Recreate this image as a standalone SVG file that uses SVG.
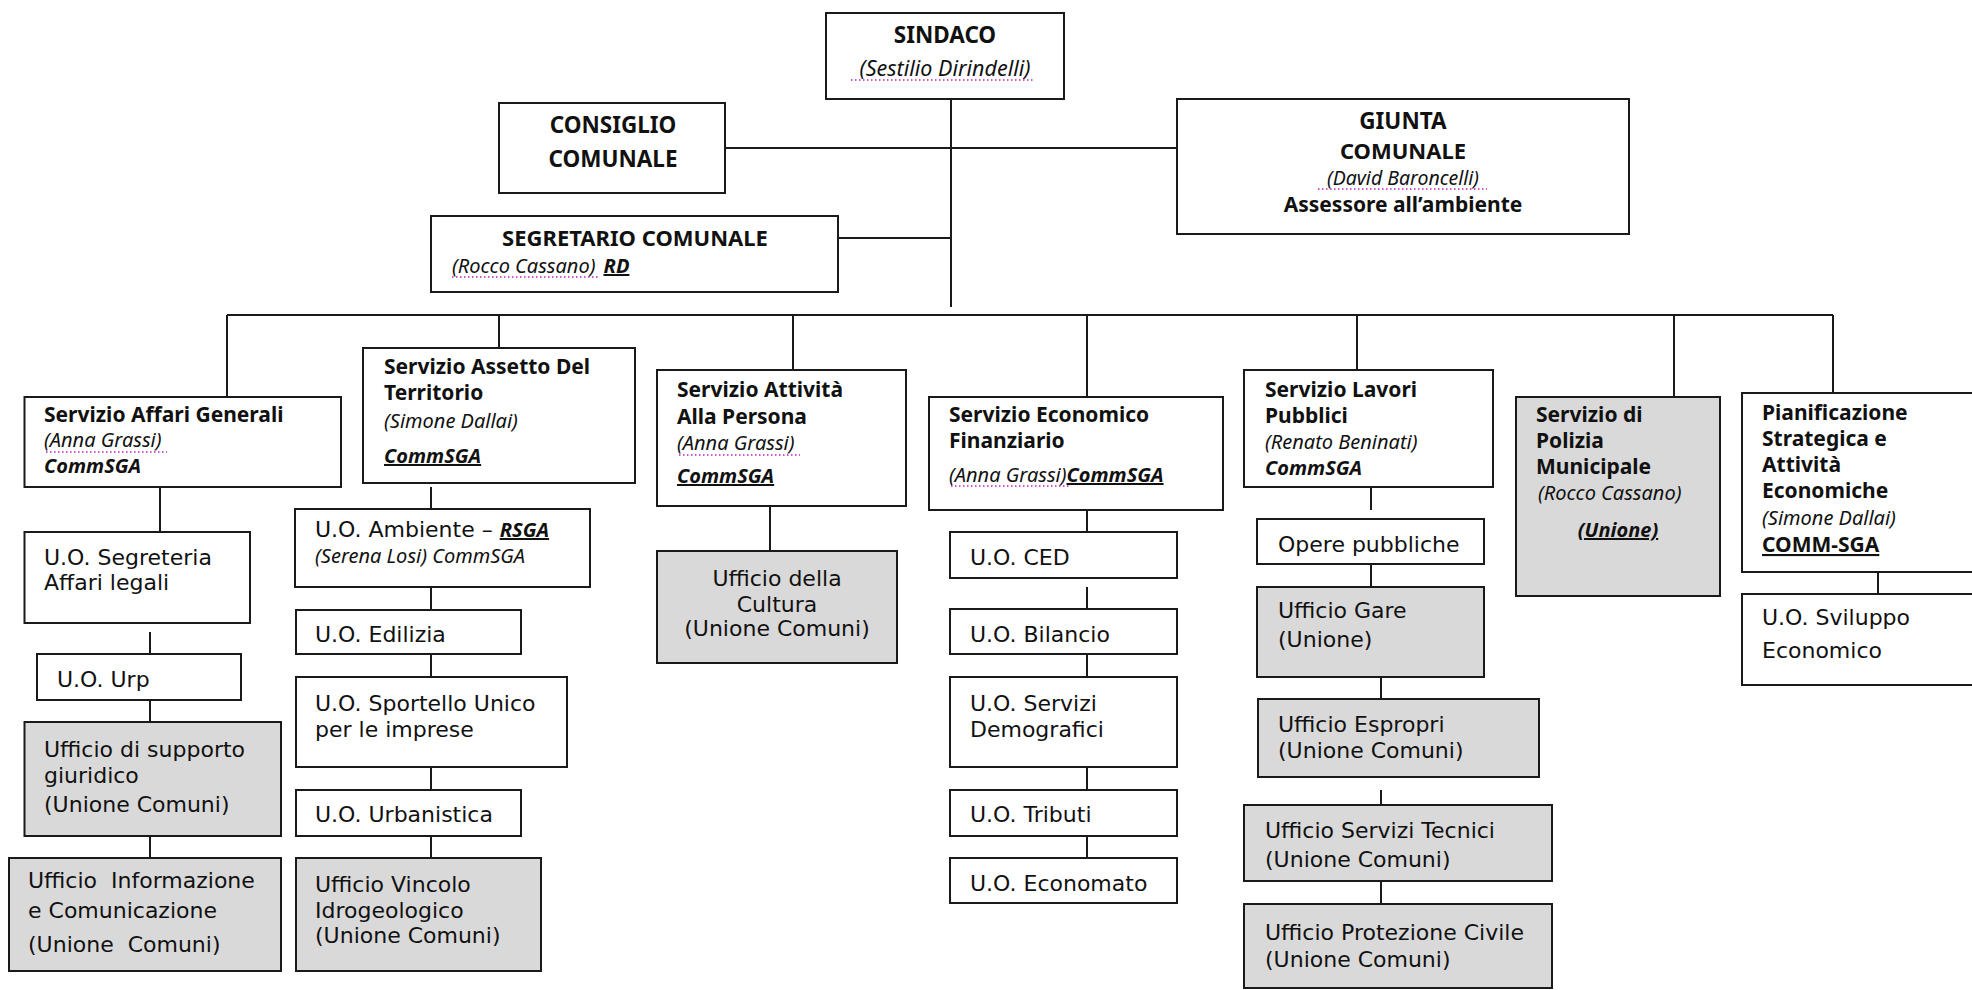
<svg xmlns="http://www.w3.org/2000/svg" width="1972" height="990" viewBox="0 0 1972 990">
<style>
.box{fill:#fff;stroke:#1a1a1a;stroke-width:2}
.gbox{fill:#d9d9d9;stroke:#1a1a1a;stroke-width:2}
.ln{stroke:#1a1a1a;stroke-width:2;fill:none}
.dot{stroke:#c020c0;stroke-width:1.5;stroke-dasharray:1.5 2.5;fill:none}
text{fill:#111}
.top{font-family:"Noto Sans","DejaVu Sans",sans-serif;font-weight:bold;font-size:22.5px}
.h{font-family:"Noto Sans","DejaVu Sans",sans-serif;font-weight:bold;font-size:21px}
.t{font-family:"DejaVu Sans","Noto Sans",sans-serif;font-size:22px}
.i{font-family:"Noto Sans","DejaVu Sans",sans-serif;font-style:italic;font-size:20px}
.bi{font-family:"Noto Sans","DejaVu Sans",sans-serif;font-style:italic;font-weight:bold;font-size:20px}
.u{text-decoration:underline}
.c{text-anchor:middle}
</style>

<g id="connectors">
<line class="ln" x1="951" y1="82" x2="951" y2="307"/>
<line class="ln" x1="725" y1="148" x2="1177" y2="148"/>
<line class="ln" x1="838" y1="238" x2="951" y2="238"/>
<line class="ln" x1="227" y1="315" x2="1833" y2="315"/>
<line class="ln" x1="227" y1="315" x2="227" y2="397"/>
<line class="ln" x1="499" y1="315" x2="499" y2="348"/>
<line class="ln" x1="793" y1="315" x2="793" y2="370"/>
<line class="ln" x1="1087" y1="315" x2="1087" y2="397"/>
<line class="ln" x1="1357" y1="315" x2="1357" y2="370"/>
<line class="ln" x1="1674" y1="315" x2="1674" y2="397"/>
<line class="ln" x1="1833" y1="315" x2="1833" y2="393"/>
<line class="ln" x1="160" y1="487" x2="160" y2="532"/>
<line class="ln" x1="150" y1="632" x2="150" y2="654"/>
<line class="ln" x1="150" y1="700" x2="150" y2="722"/>
<line class="ln" x1="150" y1="836" x2="150" y2="858"/>
<line class="ln" x1="431" y1="487" x2="431" y2="509"/>
<line class="ln" x1="431" y1="587" x2="431" y2="610"/>
<line class="ln" x1="431" y1="654" x2="431" y2="677"/>
<line class="ln" x1="431" y1="767" x2="431" y2="790"/>
<line class="ln" x1="431" y1="836" x2="431" y2="858"/>
<line class="ln" x1="770" y1="506" x2="770" y2="551"/>
<line class="ln" x1="1087" y1="510" x2="1087" y2="532"/>
<line class="ln" x1="1087" y1="587" x2="1087" y2="609"/>
<line class="ln" x1="1087" y1="654" x2="1087" y2="677"/>
<line class="ln" x1="1087" y1="767" x2="1087" y2="790"/>
<line class="ln" x1="1087" y1="836" x2="1087" y2="858"/>
<line class="ln" x1="1371" y1="487" x2="1371" y2="510"/>
<line class="ln" x1="1371" y1="564" x2="1371" y2="587"/>
<line class="ln" x1="1381" y1="677" x2="1381" y2="699"/>
<line class="ln" x1="1381" y1="790" x2="1381" y2="812"/>
<line class="ln" x1="1381" y1="881" x2="1381" y2="904"/>
<line class="ln" x1="1878" y1="572" x2="1878" y2="594"/>
</g>

<g id="sindaco">
<rect class="box" x="826" y="13" width="238" height="86"/>
<text class="top c" x="945" y="43">SINDACO</text>
<text class="i c" x="945" y="76" style="font-size:21.5px">(Sestilio Dirindelli)</text>
<line class="dot" x1="851" y1="80" x2="1034" y2="80"/>
</g>

<g id="consiglio">
<rect class="box" x="499" y="103" width="226" height="90"/>
<text class="top c" x="613" y="133">CONSIGLIO</text>
<text class="top c" x="613" y="167">COMUNALE</text>
</g>

<g id="giunta">
<rect class="box" x="1177" y="99" width="452" height="135"/>
<text class="top c" x="1403" y="129">GIUNTA</text>
<text class="top c" x="1403" y="159" style="font-size:22px">COMUNALE</text>
<text class="i c" x="1403" y="185" style="font-size:19.5px">(David Baroncelli)</text>
<line class="dot" x1="1318" y1="189" x2="1487" y2="189"/>
<text class="h c" x="1403" y="212">Assessore all’ambiente</text>
</g>

<g id="segretario">
<rect class="box" x="431" y="216" width="407" height="76"/>
<text class="top c" x="635" y="246" style="font-size:22px">SEGRETARIO COMUNALE</text>
<text x="452" y="273"><tspan class="i">(Rocco Cassano)</tspan><tspan class="bi u" dx="8">RD</tspan></text>
<line class="dot" x1="452" y1="277" x2="598" y2="277"/>
</g>

<g id="affari-generali">
<rect class="box" x="24.5" y="397" width="316.5" height="90"/>
<text class="h" x="44" y="422">Servizio Affari Generali</text>
<text class="i" x="44" y="447">(Anna Grassi)</text>
<line class="dot" x1="46" y1="452" x2="167" y2="452"/>
<text class="bi" x="44" y="473">CommSGA</text>
</g>

<g id="assetto">
<rect class="box" x="363" y="348" width="272" height="135"/>
<text class="h" x="384" y="374">Servizio Assetto Del</text>
<text class="h" x="384" y="400">Territorio</text>
<text class="i" x="384" y="428">(Simone Dallai)</text>
<text class="bi u" x="384" y="463">CommSGA</text>
</g>

<g id="attivita">
<rect class="box" x="657" y="370" width="249" height="136"/>
<text class="h" x="677" y="397">Servizio Attività</text>
<text class="h" x="677" y="424">Alla Persona</text>
<text class="i" x="677" y="450">(Anna Grassi)</text>
<line class="dot" x1="679" y1="455" x2="800" y2="455"/>
<text class="bi u" x="677" y="483">CommSGA</text>
</g>

<g id="economico">
<rect class="box" x="929" y="397" width="294" height="113"/>
<text class="h" x="949" y="422">Servizio Economico</text>
<text class="h" x="949" y="448">Finanziario</text>
<text x="949" y="482"><tspan class="i">(Anna Grassi)</tspan><tspan class="bi u">CommSGA</tspan></text>
<line class="dot" x1="951" y1="486" x2="1069" y2="486"/>
</g>

<g id="lavori">
<rect class="box" x="1244" y="370" width="249" height="117"/>
<text class="h" x="1265" y="397">Servizio Lavori</text>
<text class="h" x="1265" y="423">Pubblici</text>
<text class="i" x="1265" y="449">(Renato Beninati)</text>
<text class="bi" x="1265" y="475">CommSGA</text>
</g>

<g id="polizia">
<rect class="gbox" x="1516" y="397" width="204" height="199"/>
<text class="h" x="1536" y="422">Servizio di</text>
<text class="h" x="1536" y="448">Polizia</text>
<text class="h" x="1536" y="474">Municipale</text>
<text class="i" x="1538" y="500">(Rocco Cassano)</text>
<text class="bi u c" x="1618" y="537">(Unione)</text>
</g>

<g id="pianificazione">
<rect class="box" x="1742" y="393" width="240" height="179"/>
<text class="h" x="1762" y="420">Pianificazione</text>
<text class="h" x="1762" y="446">Strategica e</text>
<text class="h" x="1762" y="472">Attività</text>
<text class="h" x="1762" y="498">Economiche</text>
<text class="i" x="1762" y="525">(Simone Dallai)</text>
<text class="h u" x="1762" y="552">COMM-SGA</text>
</g>

<g id="uo-segreteria">
<rect class="box" x="24.5" y="532" width="225.5" height="91"/>
<text class="t" x="44" y="565">U.O. Segreteria</text>
<text class="t" x="44" y="590">Affari legali</text>
</g>
<g id="uo-urp">
<rect class="box" x="37" y="654" width="204" height="46"/>
<text class="t" x="57" y="687">U.O. Urp</text>
</g>
<g id="uff-supporto">
<rect class="gbox" x="24.5" y="722" width="256.5" height="114"/>
<text class="t" x="44" y="757">Ufficio di supporto</text>
<text class="t" x="44" y="783">giuridico</text>
<text class="t" x="44" y="812">(Unione Comuni)</text>
</g>
<g id="uff-informazione">
<rect class="gbox" x="9" y="858" width="272" height="113"/>
<text class="t" x="28" y="888" xml:space="preserve">Ufficio  Informazione</text>
<text class="t" x="28" y="918">e Comunicazione</text>
<text class="t" x="28" y="952" xml:space="preserve">(Unione  Comuni)</text>
</g>

<g id="uo-ambiente">
<rect class="box" x="295" y="509" width="295" height="78"/>
<text x="315" y="537"><tspan class="t">U.O. Ambiente – </tspan><tspan class="bi u">RSGA</tspan></text>
<text class="i" x="315" y="563">(Serena Losi) CommSGA</text>
</g>
<g id="uo-edilizia">
<rect class="box" x="296" y="610" width="225" height="44"/>
<text class="t" x="315" y="642">U.O. Edilizia</text>
</g>
<g id="uo-sportello">
<rect class="box" x="296" y="677" width="271" height="90"/>
<text class="t" x="315" y="711">U.O. Sportello Unico</text>
<text class="t" x="315" y="737">per le imprese</text>
</g>
<g id="uo-urbanistica">
<rect class="box" x="296" y="790" width="225" height="46"/>
<text class="t" x="315" y="822">U.O. Urbanistica</text>
</g>
<g id="uff-vincolo">
<rect class="gbox" x="296" y="858" width="245" height="113"/>
<text class="t" x="315" y="892">Ufficio Vincolo</text>
<text class="t" x="315" y="918">Idrogeologico</text>
<text class="t" x="315" y="943">(Unione Comuni)</text>
</g>

<g id="uff-cultura">
<rect class="gbox" x="657" y="551" width="240" height="112"/>
<text class="t c" x="777" y="586">Ufficio della</text>
<text class="t c" x="777" y="612">Cultura</text>
<text class="t c" x="777" y="636">(Unione Comuni)</text>
</g>

<g id="uo-ced">
<rect class="box" x="950" y="532" width="227" height="46"/>
<text class="t" x="970" y="565">U.O. CED</text>
</g>
<g id="uo-bilancio">
<rect class="box" x="950" y="609" width="227" height="45"/>
<text class="t" x="970" y="642">U.O. Bilancio</text>
</g>
<g id="uo-demografici">
<rect class="box" x="950" y="677" width="227" height="90"/>
<text class="t" x="970" y="711">U.O. Servizi</text>
<text class="t" x="970" y="737">Demografici</text>
</g>
<g id="uo-tributi">
<rect class="box" x="950" y="790" width="227" height="46"/>
<text class="t" x="970" y="822">U.O. Tributi</text>
</g>
<g id="uo-economato">
<rect class="box" x="950" y="858" width="227" height="45"/>
<text class="t" x="970" y="891">U.O. Economato</text>
</g>

<g id="opere">
<rect class="box" x="1257" y="519" width="227" height="45"/>
<text class="t" x="1278" y="552">Opere pubbliche</text>
</g>
<g id="uff-gare">
<rect class="gbox" x="1257" y="587" width="227" height="90"/>
<text class="t" x="1278" y="618">Ufficio Gare</text>
<text class="t" x="1278" y="647">(Unione)</text>
</g>
<g id="uff-espropri">
<rect class="gbox" x="1258" y="699" width="281" height="78"/>
<text class="t" x="1278" y="732">Ufficio Espropri</text>
<text class="t" x="1278" y="758">(Unione Comuni)</text>
</g>
<g id="uff-tecnici">
<rect class="gbox" x="1244" y="805" width="308" height="76"/>
<text class="t" x="1265" y="838">Ufficio Servizi Tecnici</text>
<text class="t" x="1265" y="867">(Unione Comuni)</text>
</g>
<g id="uff-protezione">
<rect class="gbox" x="1244" y="904" width="308" height="84"/>
<text class="t" x="1265" y="940">Ufficio Protezione Civile</text>
<text class="t" x="1265" y="967">(Unione Comuni)</text>
</g>

<g id="uo-sviluppo">
<rect class="box" x="1742" y="594" width="240" height="91"/>
<text class="t" x="1762" y="625">U.O. Sviluppo</text>
<text class="t" x="1762" y="658">Economico</text>
</g>
</svg>
